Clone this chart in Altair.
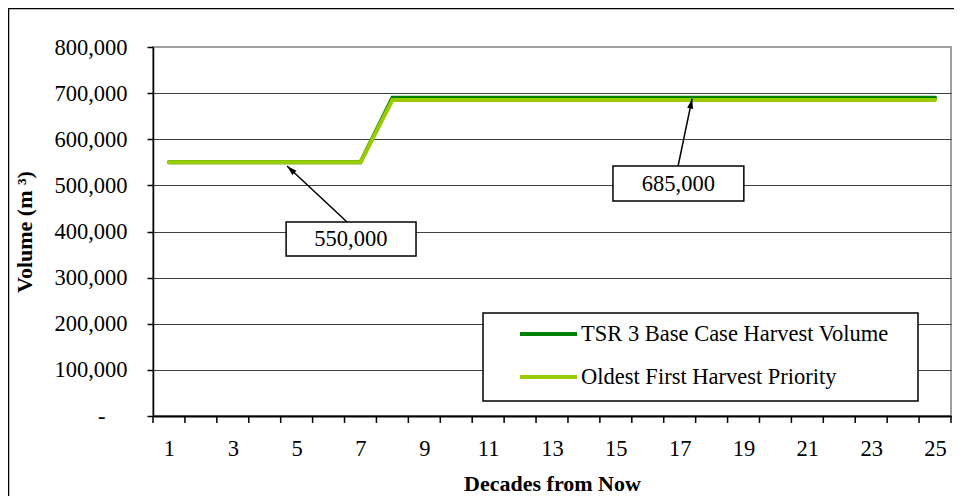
import altair as alt
import pandas as pd

# ---- data ----
decades = [1, 2, 3, 4, 5, 6, 7, 8, 9, 10, 11, 12, 13, 14, 15, 16, 17, 18, 19, 20, 21, 22, 23, 24, 25]
tsr_base_case = [550000, 550000, 550000, 550000, 550000, 550000, 550000,
                 690000, 690000, 690000, 690000, 690000, 690000, 690000, 690000,
                 690000, 690000, 690000, 690000, 690000, 690000, 690000, 690000,
                 690000, 690000]
oldest_first = [550000, 550000, 550000, 550000, 550000, 550000, 550000,
                685000, 685000, 685000, 685000, 685000, 685000, 685000, 685000,
                685000, 685000, 685000, 685000, 685000, 685000, 685000, 685000,
                685000, 685000]
series_names = ["TSR 3 Base Case Harvest Volume", "Oldest First Harvest Priority"]
series_colors = ["#008000", "#99CC00"]

# axis ticks
x_tick_bounds = [0.5, 1.5, 2.5, 3.5, 4.5, 5.5, 6.5, 7.5, 8.5, 9.5, 10.5, 11.5, 12.5,
                 13.5, 14.5, 15.5, 16.5, 17.5, 18.5, 19.5, 20.5, 21.5, 22.5, 23.5, 24.5, 25.5]
x_tick_labels = [1, 3, 5, 7, 9, 11, 13, 15, 17, 19, 21, 23, 25]
y_ticks = [0, 100000, 200000, 300000, 400000, 500000, 600000, 700000, 800000]

# annotations (data coordinates)
ann_labels = ["550,000", "685,000"]
ann_text_x = [6.70, 16.96]
ann_text_y = [383700, 504000]
ann_box_x = [4.67, 14.91]
ann_box_x2 = [8.74, 19.01]
ann_box_y = [420600, 542000]
ann_box_y2 = [346900, 466100]
arrow_from_x = [6.58, 16.95]
arrow_from_y = [420600, 542000]
arrow_to_x = [4.70, 17.39]
arrow_to_y = [542000, 688000]
arrow_angle = [313, 11.6]

FONT = "Liberation Serif"
FS = 22.5
W, H = 798, 369

df_tsr = pd.DataFrame({"decade": decades, "volume": tsr_base_case})
df_old = pd.DataFrame({"decade": decades, "volume": oldest_first})
df_bounds = pd.DataFrame({"b": x_tick_bounds})
ann = pd.DataFrame({
    "label": ann_labels, "tx": ann_text_x, "ty": ann_text_y,
    "bx": ann_box_x, "bx2": ann_box_x2, "by": ann_box_y, "by2": ann_box_y2,
    "ax": arrow_from_x, "ay": arrow_from_y, "ax2": arrow_to_x, "ay2": arrow_to_y,
    "angle": arrow_angle,
})
one = pd.DataFrame({"k": [0]})

x_scale = alt.Scale(domain=[0.5, 25.5], nice=False, zero=False)
y_scale = alt.Scale(domain=[0, 800000], nice=False)

x_axis = alt.Axis(
    values=x_tick_labels, format="d",
    ticks=False, grid=False,
    domainColor="black", domainWidth=2,
    labelFont=FONT, labelFontSize=FS, labelColor="black", labelPadding=21,
    labelOverlap=False, labelFlush=False, labelBound=False,
    title="Decades from Now", titleFont=FONT, titleFontSize=22, titleFontWeight="bold",
    titleColor="black", titlePadding=14,
)
y_axis = alt.Axis(
    values=y_ticks,
    labelExpr="datum.value === 0 ? '-' : format(datum.value, ',')",
    labelPadding={"condition": {"test": "datum.value === 0", "value": 42}, "value": 20},
    gridOpacity={"condition": {"test": "datum.value === 800000", "value": 0}, "value": 1},
    gridColor="#404040", gridWidth=1,
    tickSize=6, tickColor="black", tickWidth=1.5,
    domainColor="black", domainWidth=1.5,
    labelFont=FONT, labelFontSize=FS, labelColor="black", labelBaseline="middle",
    title="Volume (m ³)", titleFont=FONT, titleFontSize=22, titleFontWeight="bold",
    titleColor="black", titlePadding=17,
)

line_tsr = alt.Chart(df_tsr).mark_line(
    color=series_colors[0], strokeWidth=4, strokeCap="round", strokeJoin="miter"
).encode(
    x=alt.X("decade:Q", scale=x_scale, axis=x_axis),
    y=alt.Y("volume:Q", scale=y_scale, axis=y_axis),
)
line_old = alt.Chart(df_old).mark_line(
    color=series_colors[1], strokeWidth=4, strokeCap="round", strokeJoin="miter"
).encode(x="decade:Q", y="volume:Q")

# category boundary ticks below the x axis
x_ticks = alt.Chart(df_bounds).mark_rule(color="black", strokeWidth=1.5).encode(
    x="b:Q", y=alt.value(H), y2=alt.value(H + 7))

arrows = alt.Chart(ann).mark_rule(color="black", strokeWidth=1.5).encode(
    x="ax:Q", y="ay:Q", x2="ax2:Q", y2="ay2:Q")
heads = alt.Chart(ann).mark_point(
    shape="M0,0L-0.6,2L0.6,2Z", filled=True, size=100, color="black", opacity=1
).encode(x="ax2:Q", y="ay2:Q", angle=alt.Angle("angle:Q", scale=None))
boxes = alt.Chart(ann).mark_rect(fill="white", stroke="black", strokeWidth=1.5).encode(
    x="bx:Q", x2="bx2:Q", y="by:Q", y2="by2:Q")
box_text = alt.Chart(ann).mark_text(
    font=FONT, fontSize=FS, color="black", baseline="middle", align="center"
).encode(x="tx:Q", y="ty:Q", text="label:N")

# legend box
leg_box = alt.Chart(one).mark_rect(fill="white", stroke="black", strokeWidth=1.5).encode(
    x=alt.value(330), x2=alt.value(765), y=alt.value(266), y2=alt.value(354))
leg_line1 = alt.Chart(one).mark_rule(color=series_colors[0], strokeWidth=4).encode(
    x=alt.value(367), x2=alt.value(424), y=alt.value(287))
leg_line2 = alt.Chart(one).mark_rule(color=series_colors[1], strokeWidth=4).encode(
    x=alt.value(367), x2=alt.value(424), y=alt.value(330))
leg_text1 = alt.Chart(one).mark_text(
    font=FONT, fontSize=FS, color="black", align="left", baseline="middle",
    text=series_names[0]).encode(x=alt.value(428), y=alt.value(287))
leg_text2 = alt.Chart(one).mark_text(
    font=FONT, fontSize=FS, color="black", align="left", baseline="middle",
    text=series_names[1]).encode(x=alt.value(428), y=alt.value(330))

# outer frame of the chart object
frame = alt.Chart(one).mark_rect(fill=None, stroke="black", strokeWidth=1.5).encode(
    x=alt.value(-144.5), x2=alt.value(W + 60), y=alt.value(-38.5), y2=alt.value(H + 120))

chart = alt.layer(
    line_tsr, line_old, x_ticks, arrows, heads, boxes, box_text,
    leg_box, leg_line1, leg_line2, leg_text1, leg_text2, frame,
).properties(
    width=W, height=H,
    autosize=alt.AutoSizeParams(type="none"),
    padding={"left": 145, "top": 39, "right": 3, "bottom": 80},
    background="white",
).configure_view(stroke="#808080", strokeWidth=1.5)

chart.save("out.html", embed_options={"renderer": "svg", "actions": False})
